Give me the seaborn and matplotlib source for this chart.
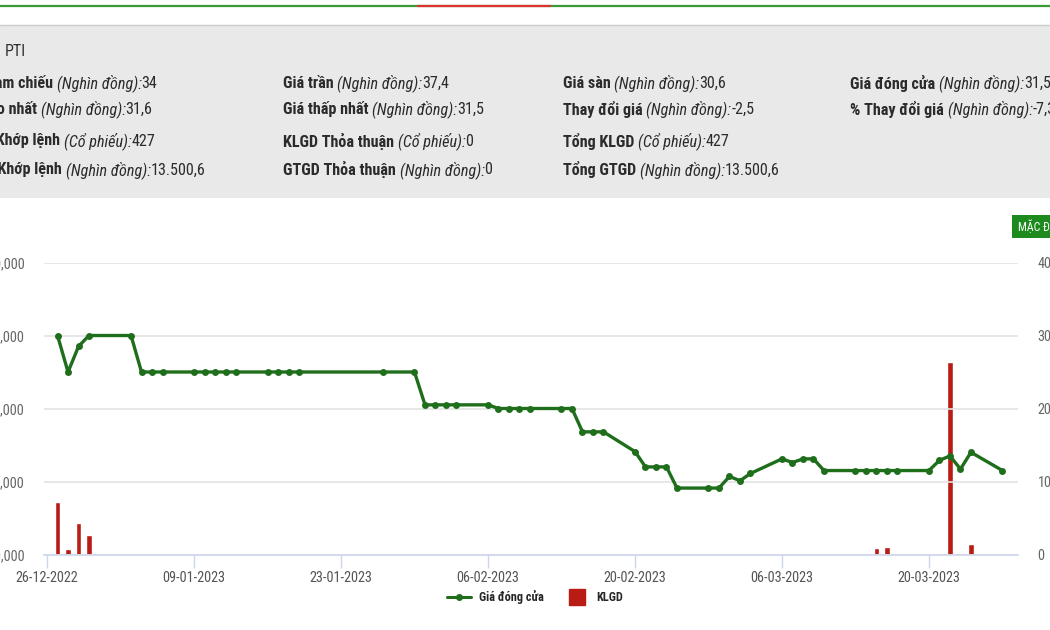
import matplotlib
matplotlib.use("Agg")
import matplotlib.pyplot as plt
import matplotlib.dates as mdates
from matplotlib.lines import Line2D
from matplotlib.patches import Rectangle
from matplotlib.ticker import FuncFormatter
import pandas as pd
import seaborn as sns

W, H = 1050, 630

# Dữ liệu
ngay = [
    "2022-12-27", "2022-12-28", "2022-12-29", "2022-12-30", "2023-01-03",
    "2023-01-04", "2023-01-05", "2023-01-06", "2023-01-09", "2023-01-10",
    "2023-01-11", "2023-01-12", "2023-01-13", "2023-01-16", "2023-01-17",
    "2023-01-18", "2023-01-19", "2023-01-27", "2023-01-30", "2023-01-31",
    "2023-02-01", "2023-02-02", "2023-02-03", "2023-02-06", "2023-02-07",
    "2023-02-08", "2023-02-09", "2023-02-10", "2023-02-13", "2023-02-14",
    "2023-02-15", "2023-02-16", "2023-02-17", "2023-02-20", "2023-02-21",
    "2023-02-22", "2023-02-23", "2023-02-24", "2023-02-27", "2023-02-28",
    "2023-03-01", "2023-03-02", "2023-03-03", "2023-03-06", "2023-03-07",
    "2023-03-08", "2023-03-09", "2023-03-10", "2023-03-13", "2023-03-14",
    "2023-03-15", "2023-03-16", "2023-03-17", "2023-03-20", "2023-03-21",
    "2023-03-22", "2023-03-23", "2023-03-24", "2023-03-27",
]
gia_dong_cua = [
    50000, 45000, 48500, 50000, 50000,
    45000, 45000, 45000, 45000, 45000,
    45000, 45000, 45000, 45000, 45000,
    45000, 45000, 45000, 45000, 40500,
    40500, 40500, 40500, 40500, 40000,
    40000, 40000, 40000, 40000, 40000,
    36800, 36800, 36800, 34100, 32000,
    32000, 32000, 29100, 29100, 29100,
    30700, 30100, 31100, 33100, 32600,
    33100, 33100, 31500, 31500, 31500,
    31500, 31500, 31500, 31500, 32900,
    33500, 31700, 34000, 31500,
]
klgd = [
    72, 7.5, 43, 27, 0,
    0, 0, 0, 0, 0,
    0, 0, 0, 0, 0,
    0, 0, 0, 0, 0,
    0, 0, 0, 0, 0,
    0, 0, 0, 0, 0,
    0, 0, 0, 0, 0,
    0, 0, 0, 0, 0,
    0, 1, 1, 0, 0,
    0, 0, 0, 1, 0,
    8.5, 9.6, 0, 0, 0,
    264, 2.2, 14.8, 0,
]

moc_ngay = ["2022-12-26", "2023-01-09", "2023-01-23", "2023-02-06",
            "2023-02-20", "2023-03-06", "2023-03-20"]
truc_gia = [20000, 30000, 40000, 50000, 60000]
truc_kl = [0, 100, 200, 300, 400]

ma_ck = "PTI"
cot_1 = [("Giá tham chiếu", "(Nghìn đồng):", "34"),
         ("Giá cao nhất", "(Nghìn đồng):", "31,6"),
         ("KLGD Khớp lệnh", "(Cổ phiếu):", "427"),
         ("GTGD Khớp lệnh", "(Nghìn đồng):", "13.500,6")]
cot_2 = [("Giá trần", "(Nghìn đồng):", "37,4"),
         ("Giá thấp nhất", "(Nghìn đồng):", "31,5"),
         ("KLGD Thỏa thuận", "(Cổ phiếu):", "0"),
         ("GTGD Thỏa thuận", "(Nghìn đồng):", "0")]
cot_3 = [("Giá sàn", "(Nghìn đồng):", "30,6"),
         ("Thay đổi giá", "(Nghìn đồng):", "-2,5"),
         ("Tổng KLGD", "(Cổ phiếu):", "427"),
         ("Tổng GTGD", "(Nghìn đồng):", "13.500,6")]
cot_4 = [("Giá đóng cửa", "(Nghìn đồng):", "31,5"),
         ("% Thay đổi giá", "(Nghìn đồng):", "-7,35")]

df = pd.DataFrame({"Ngay": pd.to_datetime(ngay), "Gia": gia_dong_cua, "KLGD": klgd})

sns.set_theme(style="white")
plt.rcParams["font.family"] = ["Roboto Condensed", "Liberation Sans Narrow", "Roboto", "DejaVu Sans"]

XANH = "#1f6e1c"
DO = "#b81c14"

fig = plt.figure(figsize=(W / 100, H / 100), dpi=100)
fig.patch.set_facecolor("white")
renderer = fig.canvas.get_renderer()


def do_rong(txt, **kw):
    t = fig.text(0, 0, txt, **kw)
    w = t.get_window_extent(renderer).width
    t.remove()
    return w


def co_chu(txt, rong, **kw):
    # cỡ chữ sao cho chuỗi rộng đúng như trong ảnh gốc
    return 12 * rong / do_rong(txt, fontsize=12, **kw)


# khung thông tin phía trên
fig.add_artist(Line2D([0, 1], [1 - 6 / H] * 2, color="#3c9a35", lw=1.6))
fig.add_artist(Line2D([418 / W, 550 / W], [1 - 6 / H] * 2, color="#e03131", lw=1.6))
fig.add_artist(Rectangle((0, 1 - 198 / H), 1, (198 - 25) / H, transform=fig.transFigure,
                         facecolor="#e9e9e9", edgecolor="none", zorder=0))
fig.add_artist(Line2D([0, 1], [1 - 25 / H] * 2, color="#cccccc", lw=1))

CO = 12 * 166 / (do_rong("Giá trần ", fontsize=12, fontweight="bold")
                 + do_rong("(Nghìn đồng):", fontsize=12, fontstyle="italic")
                 + do_rong("37,4", fontsize=12))


def viet_dong(x, y, nhan, don_vi, gia_tri):
    for txt, kw in [(nhan + " ", dict(fontweight="bold")),
                    (don_vi, dict(fontstyle="italic")),
                    (gia_tri, dict())]:
        t = fig.text(x / W, 1 - y / H, txt, fontsize=CO, color="#2b2b2b", va="center", **kw)
        x += t.get_window_extent(renderer).width


fig.text(5 / W, 1 - 52 / H, ma_ck, fontsize=CO, color="#333333", va="center")
x_cot1 = 53 - do_rong("Giá tham chiếu", fontsize=CO, fontweight="bold")
hang_y = [83, 109, 141, 170]
for x0, cot in [(x_cot1, cot_1), (283, cot_2), (563, cot_3), (850, cot_4)]:
    for y0, (nhan, dv, gt) in zip(hang_y, cot):
        viet_dong(x0, y0, nhan, dv, gt)

# nhãn "MẶC ĐỊNH"
fig.add_artist(Rectangle((1012 / W, 1 - 238 / H), 60 / W, 23 / H, transform=fig.transFigure,
                         facecolor="#1c8a1c", edgecolor="none"))
fig.text(1018 / W, 1 - 227 / H, "MẶC ĐỊNH", fontsize=8.5, color="white", va="center")

# biểu đồ
ax = fig.add_axes([44 / W, (H - 554.5) / H, (1018 - 44) / W, 292 / H])
ax2 = ax.twinx()

ax2.bar(df["Ngay"], df["KLGD"], width=0.5, color=DO, zorder=2)
sns.lineplot(data=df, x="Ngay", y="Gia", ax=ax, color=XANH, lw=2.4,
             marker="o", markersize=5, markeredgewidth=0)
ax.set_zorder(ax2.get_zorder() + 1)
ax.patch.set_visible(False)

goc = pd.Timestamp("2022-12-26")
ax.set_xlim(goc - pd.Timedelta(hours=6.9), goc + pd.Timedelta(days=92.48))
ax.set_xticks(pd.to_datetime(moc_ngay))
ax.xaxis.set_major_formatter(mdates.DateFormatter("%d-%m-%Y"))

ax.set_ylim(truc_gia[0], truc_gia[-1])
ax.set_yticks(truc_gia)
ax.yaxis.set_major_formatter(FuncFormatter(lambda v, p: f"{v:,.0f}"))
ax2.set_ylim(truc_kl[0], truc_kl[-1])
ax2.set_yticks(truc_kl)

ax.grid(axis="y", color="#e3e3e3", lw=1.2)
ax.grid(axis="x", visible=False)
ax.set_xlabel("")
ax.set_ylabel("")
ax2.set_ylabel("")
for a in (ax, ax2):
    for s in a.spines.values():
        s.set_visible(False)
ax.spines["bottom"].set_visible(True)
ax.spines["bottom"].set_color("#ccd6eb")
ax.spines["bottom"].set_linewidth(1.2)

CO_TRUC = co_chu("26-12-2022", 63)
ax.tick_params(axis="x", bottom=True, length=9, width=1, color="#ccd6eb",
               pad=3, labelsize=CO_TRUC, labelcolor="#555555")
ax.tick_params(axis="y", left=False, length=0, pad=14, labelsize=CO_TRUC, labelcolor="#666666")
ax2.tick_params(axis="y", right=False, length=0, pad=14, labelsize=CO_TRUC, labelcolor="#666666")

CO_CHU_GIAI = co_chu("Giá đóng cửa", 65, fontweight="bold")
fig.legend(handles=[Line2D([], [], color=XANH, lw=2.2, marker="o", ms=4),
                    Line2D([], [], color=DO, ls="", marker="s", ms=11)],
           labels=["Giá đóng cửa", "KLGD"], loc="center",
           bbox_to_anchor=(535 / W, 1 - 597 / H), ncol=2, frameon=False,
           prop=dict(weight="bold", size=CO_CHU_GIAI), handlelength=2.0,
           columnspacing=1.7, handletextpad=0.6)

fig.savefig("out.png", dpi=100)
